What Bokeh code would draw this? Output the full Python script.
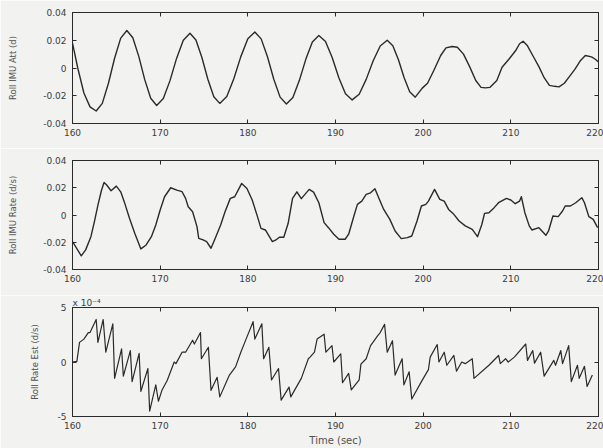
from bokeh.plotting import figure
from bokeh.layouts import column
from bokeh.models import Range1d, LinearAxis, FixedTicker, Title
from bokeh.embed import file_html
from bokeh.resources import INLINE

# ---- data -------------------------------------------------------------
x_ticks = [160, 170, 180, 190, 200, 210, 220]
x_tick_labels = ["160", "170", "180", "190", "200", "210", "220"]

att_ticks = [-0.04, -0.02, 0.0, 0.02, 0.04]
att_tick_labels = ["-0.04", "-0.02", "0", "0.02", "0.04"]

est_ticks = [-5, 0, 5]
est_tick_labels = ["-5", "0", "5"]
est_scale_text = "x 10\u207b\u2074"

# roll IMU attitude (deg)
att_t = [160.0, 160.6, 161.3, 162.0, 162.7, 163.4, 164.1, 164.8, 165.5, 166.2,
         166.88, 167.56, 168.24, 168.92, 169.6, 170.36, 171.12, 171.88, 172.64, 173.4,
         174.08, 174.76, 175.44, 176.12, 176.8, 177.6, 178.4, 179.2, 180.0, 180.8,
         181.52, 182.24, 182.96, 183.68, 184.4, 185.14, 185.88, 186.62, 187.36, 188.1,
         188.86, 189.62, 190.38, 191.14, 191.9, 192.7, 193.5, 194.3, 195.1, 195.9,
         196.54, 197.18, 197.82, 198.46, 199.1, 199.9, 200.5, 201.2, 202.0, 202.6,
         203.3, 203.9, 204.6, 205.3, 206.0, 206.6, 207.1, 207.6, 208.4, 209.0,
         209.8, 210.6, 211.0, 211.4, 211.9, 212.5, 213.2, 213.8, 214.4, 215.0,
         215.5, 216.1, 216.7, 217.3, 217.9, 218.5, 219.2, 219.6, 220.0]
att_v = [0.018, 0.000, -0.018, -0.028, -0.031, -0.0255, -0.0110, 0.0070, 0.0215, 0.027,
         0.0218, 0.0084, -0.0084, -0.0218, -0.027, -0.0220, -0.0091, 0.0071, 0.0200, 0.025,
         0.0202, 0.0076, -0.0081, -0.0207, -0.0255, -0.0206, -0.0077, 0.0082, 0.0211, 0.026,
         0.0210, 0.0081, -0.0081, -0.0210, -0.026, -0.0213, -0.0089, 0.0064, 0.0188, 0.0235,
         0.0191, 0.0075, -0.0070, -0.0186, -0.023, -0.0189, -0.0082, 0.0052, 0.0159, 0.020,
         0.0161, 0.0059, -0.0069, -0.0171, -0.021, -0.0145, -0.0110, -0.0020, 0.0090, 0.0145,
         0.0155, 0.0150, 0.0100, 0.0010, -0.0090, -0.0140, -0.0143, -0.0140, -0.0090, 0.0005,
         0.0065, 0.0130, 0.0175, 0.0193, 0.0160, 0.0090, 0.0010, -0.0070, -0.0125, -0.0132,
         -0.0136, -0.0110, -0.0060, -0.0010, 0.0050, 0.0090, 0.0080, 0.0065, 0.0043]

# roll IMU rate (deg/s)
rate_t = [160.0, 161.0, 161.5, 162.1, 162.5, 162.9, 163.3, 163.6, 163.9, 164.4,
          165.0, 165.5, 165.9, 166.5, 167.1, 167.8, 168.4, 169.0, 169.5, 170.0,
          170.5, 171.2, 171.9, 172.5, 172.9, 173.2, 173.7, 174.2, 174.4, 174.9,
          175.3, 175.8, 176.2, 176.9, 177.4, 178.0, 178.5, 179.0, 179.3, 179.9,
          180.5, 181.1, 181.5, 182.0, 182.8, 183.2, 183.6, 184.1, 184.6, 185.1,
          185.6, 186.1, 187.0, 187.5, 188.1, 188.7, 189.2, 189.8, 190.4, 191.1,
          191.5, 192.1, 192.5, 193.0, 193.5, 194.0, 194.5, 195.0, 195.5, 196.2,
          196.8, 197.5, 198.2, 198.7, 199.3, 199.8, 200.3, 200.6, 201.3, 201.9,
          202.4, 202.9, 203.5, 204.1, 204.8, 205.6, 206.2, 206.7, 207.0, 207.5,
          208.1, 208.6, 209.5, 210.0, 210.5, 211.0, 211.2, 211.6, 212.1, 212.4,
          213.2, 214.0, 214.3, 214.8, 215.4, 215.9, 216.2, 216.8, 217.4, 218.1,
          218.4, 218.9, 219.4, 219.9]
rate_v = [-0.0195, -0.0300, -0.0256, -0.0159, -0.0049, 0.0073, 0.0180, 0.0239, 0.0220, 0.0178,
          0.0212, 0.0170, 0.0098, -0.0024, -0.0134, -0.0249, -0.0220, -0.0159, -0.0073, 0.0037,
          0.0134, 0.0200, 0.0183, 0.0171, 0.0122, 0.0061, 0.0024, -0.0085, -0.0171, -0.0183,
          -0.0195, -0.0244, -0.0183, -0.0073, 0.0024, 0.0122, 0.0134, 0.0195, 0.0232, 0.0195,
          0.0110, -0.0012, -0.0098, -0.0110, -0.0195, -0.0183, -0.0163, -0.0163, -0.0061, 0.0122,
          0.0170, 0.0120, 0.0188, 0.0168, 0.0090, -0.0056, -0.0093, -0.0141, -0.0178, -0.0178,
          -0.0141, -0.0007, 0.0078, 0.0102, 0.0151, 0.0163, 0.0193, 0.0115, 0.0041, -0.0032,
          -0.0117, -0.0173, -0.0166, -0.0154, -0.0044, 0.0066, 0.0078, 0.0102, 0.0188, 0.0115,
          0.0102, 0.0041, 0.0005, -0.0044, -0.0080, -0.0105, -0.0159, -0.0068, 0.0012, 0.0017,
          0.0054, 0.0090, 0.0122, 0.0110, 0.0083, 0.0102, 0.0134, 0.0017, -0.0080, -0.0110,
          -0.0093, -0.0149, -0.0117, -0.0007, -0.0012, 0.0029, 0.0066, 0.0066, 0.0090, 0.0127,
          0.0090, -0.0012, -0.0032, -0.0093]

# roll rate estimate (x 1e-4 deg/s)
est_t = [160.0, 160.5, 160.8, 161.3, 161.8, 162.0, 162.7, 162.9, 163.5, 163.8,
         164.6, 164.8, 165.6, 165.8, 166.6, 166.8, 167.6, 167.8, 168.6, 168.8,
         169.5, 169.8, 170.2, 170.8, 171.6, 171.8, 172.5, 172.9, 173.7, 173.9,
         174.6, 174.7, 175.5, 175.8, 176.5, 176.8, 177.9, 178.6, 179.2, 179.8,
         180.6, 180.8, 181.6, 181.8, 182.4, 182.7, 183.5, 183.8, 184.7, 184.9,
         186.1, 186.9, 187.1, 187.6, 187.9, 188.7, 188.9, 189.6, 189.8, 190.6,
         190.8, 191.5, 191.8, 192.7, 192.9, 193.5, 194.0, 194.8, 195.1, 195.6,
         195.9, 196.5, 196.8, 197.6, 197.8, 198.4, 198.7, 199.8, 200.6, 200.8,
         201.6, 201.8, 202.4, 202.7, 203.5, 203.8, 204.4, 204.8, 205.6, 205.8,
         207.5, 208.6, 208.8, 209.4, 209.7, 210.4, 211.7, 211.9, 212.5, 212.7,
         213.4, 213.8, 214.9, 215.1, 215.7, 215.9, 216.6, 216.9, 217.6, 217.8,
         218.4, 218.7, 219.3]
est_v = [0.0, 0.06, 1.8, 2.1, 2.7, 2.7, 3.9, 1.8, 3.9, 0.9,
         3.5, -1.5, 1.2, -1.3, 1.05, -1.8, 0.8, -2.7, -0.6, -4.5,
         -2.1, -3.6, -2.6, -1.7, 0.0, -0.15, 0.9, 0.9, 2.0, 1.65,
         2.7, 0.3, 1.35, -2.6, -1.4, -3.2, -1.2, -0.45, 0.9, 2.1,
         3.7, 2.1, 3.5, 0.3, 1.35, -1.65, -0.6, -3.5, -2.3, -3.2,
         -1.5, 0.3, 0.45, 0.9, 2.1, 2.55, 0.9, 1.5, 0.0, 0.75,
         -1.9, -1.05, -2.55, -1.65, -0.2, 0.3, 1.5, 2.4, 2.7, 3.45,
         0.9, 1.95, -1.2, 0.3, -2.1, -0.9, -3.4, -1.8, -0.7, 0.45,
         1.6, 0.0, 0.9, -0.3, 0.6, -0.85, 0.0, -0.15, 0.3, -1.5,
         -0.3, 0.6, -0.15, 0.3, 0.0, 0.45, 1.65, 0.15, 1.05, -0.1,
         0.9, -1.3, 0.15, -0.3, 1.05, -0.15, 1.5, -1.8, -0.3, -1.5,
         -0.4, -2.25, -1.2]

# ---- styling ----------------------------------------------------------
BG = "#f2f2f1"
INK = "#2a2a2a"
TXT = "#3c3c3c"
FONT = "DejaVu Sans"


def style_axis(ax, ticker, overrides):
    ax.ticker = ticker
    ax.major_label_overrides = overrides
    ax.major_tick_in = 4
    ax.major_tick_out = 0
    ax.minor_tick_line_color = None
    ax.axis_line_color = INK
    ax.major_tick_line_color = INK
    ax.major_label_text_font = FONT
    ax.major_label_text_font_size = "9px"
    ax.major_label_text_color = TXT
    ax.major_label_standoff = 5
    ax.axis_label_text_font = FONT
    ax.axis_label_text_font_style = "normal"
    ax.axis_label_text_color = "#505050"


def make_panel(t, v, yr, yticks, ylabels, ylabel, height, top, bottom,
               label_standoff, xlabel=None, lw=1.4):
    p = figure(width=603, height=height, output_backend="svg",
               toolbar_location=None,
               x_range=Range1d(160, 220), y_range=Range1d(*yr),
               min_border_left=72, min_border_right=5,
               min_border_top=top, min_border_bottom=bottom,
               background_fill_color=BG, border_fill_color=BG,
               outline_line_color=INK, outline_line_width=1)
    p.grid.visible = False
    p.line(t, v, line_color=INK, line_width=lw, line_join="round")

    xt = FixedTicker(ticks=x_ticks)
    yt = FixedTicker(ticks=yticks)

    bottom_ax = p.below[0]
    left_ax = p.left[0]
    style_axis(bottom_ax, xt, dict(zip(x_ticks, x_tick_labels)))
    style_axis(left_ax, yt, dict(zip(yticks, ylabels)))

    # tick marks on the top and right edges, without labels
    top_ax = LinearAxis()
    right_ax = LinearAxis()
    style_axis(top_ax, xt, {k: "" for k in x_ticks})
    style_axis(right_ax, yt, {k: "" for k in yticks})
    top_ax.major_label_standoff = 0
    right_ax.major_label_standoff = 0
    p.add_layout(top_ax, "above")
    p.add_layout(right_ax, "right")

    left_ax.axis_label = ylabel
    left_ax.axis_label_text_font_size = "8.5px"
    left_ax.axis_label_standoff = label_standoff
    left_ax.major_label_standoff = 6
    if xlabel:
        bottom_ax.axis_label = xlabel
        bottom_ax.axis_label_text_font_size = "10px"
        bottom_ax.axis_label_standoff = 3
    return p


p1 = make_panel(att_t, att_v, (-0.04, 0.04), att_ticks, att_tick_labels,
                "Roll IMU Att (d)", 148, 12, 25, 22)
p2 = make_panel(rate_t, rate_v, (-0.04, 0.04), att_ticks, att_tick_labels,
                "Roll IMU Rate (d/s)", 147, 12, 26, 22)
p3 = make_panel(est_t, est_v, (-5, 5), est_ticks, est_tick_labels,
                "Roll Rate Est (d/s)", 153, 12, 31, 15,
                xlabel="Time (sec)", lw=1.2)

# scale factor for the lower panel, written above its top-left corner
p3.add_layout(Title(text=est_scale_text, align="left", offset=0, standoff=0,
                    text_font=FONT, text_font_size="9px", text_color=TXT,
                    text_font_style="normal"), "above")

layout = column(p1, p2, p3, spacing=0)
open("out.html", "w").write(file_html(layout, INLINE))
